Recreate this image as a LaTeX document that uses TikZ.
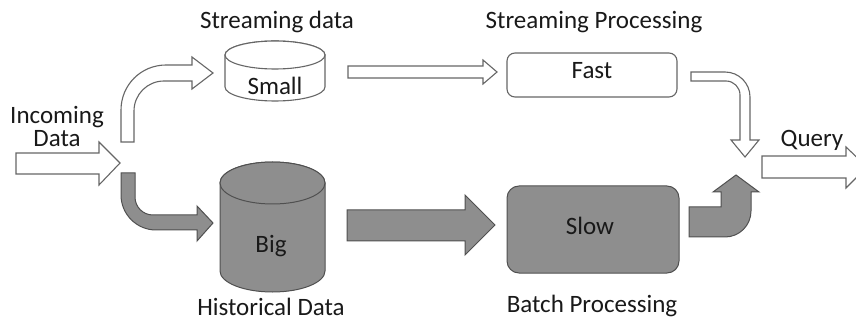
\documentclass[tikz,border=0pt]{standalone}
\usepackage{fontspec}
\setmainfont{Carlito}
\definecolor{fillgray}{HTML}{8E8E8E}
\definecolor{edgegray}{HTML}{505050}
\definecolor{lightedge}{HTML}{666666}
\tikzset{
  lbl/.style={anchor=base, inner sep=0pt, font=\fontsize{25}{29}\selectfont, text=black!90},
  whitearrow/.style={draw=lightedge, fill=white, line width=1.1pt, line join=miter},
  grayarrow/.style={draw=edgegray, fill=fillgray, line width=1pt, line join=miter},
  whitebox/.style={draw=lightedge, fill=white, line width=1.1pt},
  graybox/.style={draw=edgegray, fill=fillgray, line width=1pt}
}
\begin{document}
\begin{tikzpicture}[x=1pt, y=-1pt]
\useasboundingbox (0,0) rectangle (856,320);
\clip (0,0) rectangle (856,320);

% ---------- labels ----------
\node[lbl] (lincoming) at (57,124) {Incoming};
\node[lbl] (ldata) at (57,147) {Data};
\node[lbl] (lstream) at (277,29) {Streaming data};
\node[lbl] (lsproc) at (594,29) {Streaming Processing};
\node[lbl] (lhist) at (271,315) {Historical Data};
\node[lbl] (lbatch) at (592,312) {Batch Processing};
\node[lbl] (lquery) at (812,147) {Query};

% ---------- Incoming arrow ----------
\draw[whitearrow] (16,153) -- (99,153) -- (99,142) -- (120,163) -- (99,185) -- (99,174) -- (16,174) -- cycle;

% ---------- upper curved white arrow ----------
\draw[whitearrow] (121,142) -- (121,110) .. controls (121,85) and (141,65) .. (166,65)
  -- (192,65) -- (192,57) -- (213,73) -- (192,89) -- (192,81) -- (164,81)
  .. controls (147.4,81) and (134,94.4) .. (134,111) -- (134,142) -- cycle;

% ---------- lower curved gray arrow ----------
\draw[grayarrow] (121,173) -- (121,195) .. controls (121,214.3) and (136.7,230) .. (156,230)
  -- (197,230) -- (197,241) -- (213,223) -- (197,206) -- (197,215) -- (153,215)
  .. controls (143,215) and (135,207) .. (135,197) -- (135,173) -- cycle;

% ---------- small cylinder ----------
\filldraw[whitebox] (225,55) -- (225,87) arc[start angle=180, end angle=0, x radius=50, y radius=14]
  -- (325,55) arc[start angle=0, end angle=-180, x radius=50, y radius=14] -- cycle;
\draw[whitebox] (275,55) ellipse[x radius=50, y radius=14];
\node[lbl] (small) at (275,95) {Small};

% ---------- big cylinder ----------
\filldraw[graybox] (220,183) -- (220,271) arc[start angle=180, end angle=0, x radius=52.5, y radius=21]
  -- (325,183) arc[start angle=0, end angle=-180, x radius=52.5, y radius=21] -- cycle;
\draw[graybox] (272.5,183) ellipse[x radius=52.5, y radius=21];
\node[lbl] (big) at (271,252) {Big};

% ---------- small -> fast arrow ----------
\draw[whitearrow] (348,66) -- (483,66) -- (483,60) -- (497,72) -- (483,84) -- (483,78) -- (348,78) -- cycle;

% ---------- fast box ----------
\node[whitebox, rounded corners=8pt, minimum width=170pt, minimum height=44pt, inner sep=0pt] (fastbox) at (592,75) {};
\node[lbl] (fast) at (592,79) {Fast};

% ---------- big -> slow arrow ----------
\draw[grayarrow] (347,210) -- (465,210) -- (465,195) -- (495,225) -- (465,255) -- (465,241) -- (347,241) -- cycle;

% ---------- slow box ----------
\node[graybox, rounded corners=12pt, minimum width=172pt, minimum height=87pt, inner sep=0pt] (slowbox) at (593,229.5) {};
\node[lbl] (slow) at (590,235) {Slow};

% ---------- fast -> query curved white arrow ----------
\draw[whitearrow] (691,72) -- (725,72) .. controls (738.8,72) and (750,83.2) .. (750,97)
  -- (750,140) -- (759,140) -- (745,157) -- (731,140) -- (740,140) -- (740,95)
  .. controls (740,87.3) and (733.7,81) .. (726,81) -- (691,81) -- cycle;

% ---------- slow -> query bent gray arrow ----------
\draw[grayarrow] (689,207) -- (721,207) -- (721,192) -- (713,192) -- (736,175) -- (759,192)
  -- (751,192) -- (751,211) .. controls (751,225.4) and (739.4,237) .. (725,237) -- (689,237) -- cycle;

% ---------- query arrow ----------
\draw[whitearrow] (762,156) -- (846,156) -- (846,147) -- (867,167) -- (846,188) -- (846,178) -- (762,178) -- cycle;
\end{tikzpicture}
\end{document}
